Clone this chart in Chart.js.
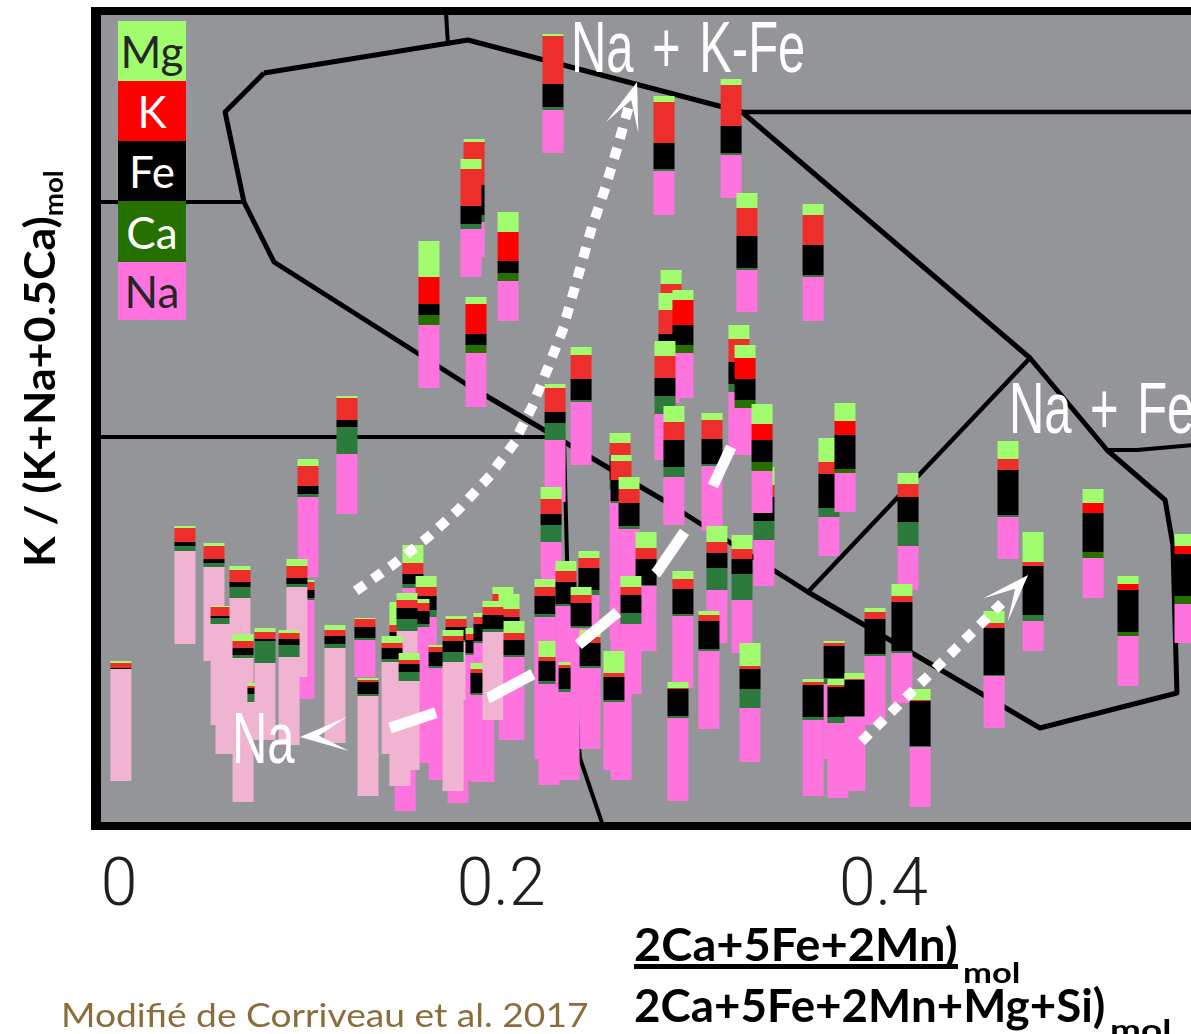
<!DOCTYPE html>
<html lang="fr">
<head>
<meta charset="utf-8">
<title>K / (K+Na+0.5Ca) vs (2Ca+5Fe+2Mn)/(2Ca+5Fe+2Mn+Mg+Si)</title>
<script src="https://cdn.jsdelivr.net/npm/chart.js"></script>
<style>
  html, body { margin:0; padding:0; background:#fff; }
  #wrap { position:relative; width:1191px; height:1034px; overflow:hidden; }
  #chart { position:absolute; left:0; top:0; }
  .ov { position:absolute; left:0; top:0; white-space:nowrap; line-height:1; transform-origin:0 0; }
  .field { color:#fff; font-family:'Liberation Sans', Arial, sans-serif; font-size:72px; word-spacing:0.1em; }
  .title { color:#000; font-family:Lato, 'Liberation Sans', sans-serif; font-weight:700; }
  .sub { font-size:0.62em; }
  .leg { position:absolute; left:118px; width:68px; display:flex; align-items:center; justify-content:center;
         font-family:Lato, 'Open Sans', sans-serif; font-size:44px; line-height:1; }
  #src { color:#8b6d3c; font-family:Lato, 'Open Sans', sans-serif; font-size:33px; }
</style>
</head>
<body>
<div id="wrap">
  <canvas id="chart" width="1191" height="1034"></canvas>
  <div id="legend"></div>
  <div class="ov field" id="lblKFe">Na + K-Fe</div>
  <div class="ov field" id="lblFe">Na + Fe</div>
  <div class="ov field" id="lblNa">Na</div>
  <div class="ov title" id="ytitle" style="font-size:42px">K / (K+Na+0.5Ca)<span class="sub" style="vertical-align:-0.32em">mol</span></div>
  <div class="ov title" id="xt1" style="font-size:45px">2Ca+5Fe+2Mn)</div>
  <div class="ov" id="xt1u" style="background:#000;height:5px"></div>
  <div class="ov title" id="xt1s" style="font-size:28px">mol</div>
  <div class="ov title" id="xt2" style="font-size:45px">2Ca+5Fe+2Mn+Mg+Si)</div>
  <div class="ov title" id="xt2s" style="font-size:28px">mol</div>
  <div class="ov" id="src">Modifié de Corriveau et al. 2017</div>
</div>
<script>
// ---------------- data ----------------
// components stacked bottom -> top in every glyph
const components = ['Na', 'Ca', 'Fe', 'K', 'Mg'];
const xTickLabels = ['0', '0.2', '0.4'];

// glyph position: x = (2Ca+5Fe+2Mn)/(2Ca+5Fe+2Mn+Mg+Si), base = bottom of the bar on the K/(K+Na+0.5Ca) axis (%)
const glyphX = [
  0.1622, 0.1858, 0.1842, 0.2036, 0.2271, 0.2852, 0.3203, 0.3286, 0.3632, 0.1868,
  0.1193, 0.2418, 0.2282, 0.2889, 0.2878, 0.2951, 0.2857, 0.2904, 0.3244, 0.3276,
  0.3103, 0.3375, 0.3365, 0.3715, 0.3799, 0.4652, 0.4129, 0.5097, 0.5578, 0.4783,
  0.5280, 0.2622, 0.2627, 0.2669, 0.2758, 0.2261, 0.2229, 0.2250, 0.2339, 0.2355,
  0.2459, 0.2418, 0.2465, 0.2679, 0.2590, 0.3129, 0.3087, 0.3260, 0.3302, 0.2951,
  0.2925, 0.3742, 0.3632, 0.3762, 0.3851, 0.3956, 0.4097, 0.4192, 0.4579, 0.0010,
  0.0345, 0.0497, 0.0560, 0.0534, 0.0633, 0.0649, 0.0727, 0.0764, 0.0989, 0.0968,
  0.0931, 0.0890, 0.1130, 0.1287, 0.1303, 0.1497, 0.1538, 0.1607, 0.1570, 0.1470,
  0.1507, 0.1429, 0.1518, 0.1774, 0.1675, 0.1764, 0.1748, 0.1868, 0.1910, 0.1894,
  0.2009, 0.2041, 0.1957, 0.2067
];
const glyphBase = [
  54.25, 70.625, 68.125, 62.625, 83.625, 75.875, 78.0, 63.75, 62.625, 51.875,
  38.5, 44.625, 40.0, 53.75, 52.375, 53.0, 45.25, 37.125, 45.875, 45.875,
  36.375, 29.5, 38.625, 33.25, 38.75, 32.875, 29.0, 28.0, 22.375, 21.375,
  17.0, 22.75, 5.25, 27.75, 21.375, 27.125, 7.875, 4.625, 15.25, 5.25,
  15.25, 15.25, 9.125, 16.0, 6.5, 22.375, 11.625, 21.125, 7.5, 16.75,
  2.625, 7.875, 3.25, 3.0, 3.875, 12.125, 14.875, 1.875, 11.75, 5.125,
  22.25, 20.125, 8.5, 12.125, 12.125, 2.5, 10.25, 10.25, 30.625, 15.375,
  18.125, 9.625, 9.875, 18.125, 3.25, 1.375, 22.75, 7.375, 15.25, 4.5,
  6.5, 8.5, 6.5, 2.375, 5.25, 15.25, 3.875, 5.25, 5.0, 5.0,
  15.25, 10.25, 12.75, 10.25
];
const naLen = [
  7.875, 4.375, 6.0, 5.0, 5.375, 5.5, 5.375, 5.25, 5.5, 6.75,
  7.5, 7.875, 7.75, 5.75, 5.375, 5.625, 5.75, 6.0, 7.875, 5.875,
  8.125, 5.75, 5.25, 4.875, 4.875, 5.25, 5.5, 5.0, 4.875, 3.75,
  6.25, 18.75, 34.625, 8.875, 8.125, 7.875, 17.75, 12.625, 11.75, 11.0,
  13.125, 9.0, 10.125, 8.75, 8.5, 6.625, 9.75, 6.625, 6.75, 9.0,
  10.375, 9.375, 9.5, 9.375, 9.25, 8.625, 6.25, 7.5, 6.5, 14.0,
  11.625, 11.75, 9.25, 12.625, 15.875, 18.0, 4.75, 9.625, 10.0, 12.375,
  11.25, 11.0, 11.875, 4.625, 12.5, 21.375, 6.5, 18.25, 9.125, 17.625,
  17.375, 11.5, 11.125, 18.625, 14.0, 7.25, 16.125, 15.625, 17.375, 10.875,
  10.375, 13.5, 11.0, 10.375
];
const caLen = [
  1.25, 0.875, 0.625, 1.0, 0.375, 0.25, 0.25, 0.25, 0.25, 1.0,
  3.375, 0.25, 2.125, 1.125, 1.125, 1.0, 2.25, 1.25, 1.0, 1.0,
  0.25, 2.375, 1.125, 1.125, 0.5, 0.25, 3.0, 0.75, 1.0, 0.75,
  0.5, 1.25, 0.25, 0.375, 0.125, 2.125, 0.375, 0.375, 0.25, 0.375,
  0.625, 0.25, 0.25, 1.375, 0.25, 2.75, 0.25, 3.25, 2.375, 0.25,
  0.25, 0.75, 0.375, 0.75, 0.125, 0.25, 0.25, 0.125, 0.125, 0,
  0.625, 0.5, 0, 0.75, 1.375, 0.375, 1.0, 2.75, 0.375, 0.25,
  0.375, 1.5, 0.5, 0.25, 0.25, 0, 0.5, 0.875, 0.375, 0.625,
  1.5, 0.375, 1.125, 0, 0.25, 0.25, 1.25, 0.25, 0.25, 0.25,
  0.25, 0.25, 0.375, 0.25
];
const feLen = [
  1.375, 3.75, 2.25, 1.5, 2.875, 3.25, 3.375, 4.0, 3.75, 1.375,
  0.875, 2.625, 1.375, 2.375, 2.125, 2.5, 2.25, 3.375, 2.75, 2.625,
  3.125, 3.0, 2.75, 4.25, 4.25, 5.625, 3.125, 4.875, 5.25, 6.125,
  5.25, 3.125, 2.625, 2.875, 3.25, 1.375, 2.25, 2.5, 2.75, 2.625,
  2.75, 2.875, 2.875, 2.25, 2.875, 1.875, 3.5, 1.875, 2.5, 3.125,
  3.375, 4.0, 4.0, 3.75, 4.5, 4.375, 6.125, 5.625, 5.875, 0.125,
  0.5, 0.5, 0, 0.25, 0.625, 0.875, 0.75, 0.25, 1.0, 1.0,
  0.75, 0.75, 1.0, 1.375, 1.5, 0, 1.25, 1.75, 1.625, 1.0,
  1.375, 1.375, 1.0, 0, 1.75, 1.625, 1.375, 1.625, 2.125, 2.5,
  1.75, 1.625, 1.75, 1.875
];
const kLen = [
  3.375, 5.375, 4.625, 3.625, 6.0, 5.125, 5.125, 3.5, 3.75, 3.75,
  2.75, 3.0, 3.0, 4.25, 3.0, 3.125, 2.75, 2.25, 2.875, 2.625,
  2.375, 1.5, 2.0, 1.5, 1.75, 1.375, 1.625, 1.25, 1.0, 0.5,
  0.75, 1.5, 2.375, 1.75, 1.375, 1.875, 1.125, 0.5, 1.375, 0.375,
  1.25, 1.0, 0.75, 1.0, 0.5, 1.375, 0.75, 1.25, 0.375, 1.25,
  0.125, 0.375, 0.375, 0.25, 0.125, 0.875, 0.75, 0.125, 0.625, 0.625,
  1.75, 1.625, 0, 1.125, 1.5, 0.875, 0.25, 0.875, 2.5, 1.0,
  1.5, 0.75, 0.75, 1.0, 0.25, 0, 1.375, 1.125, 1.0, 0.875,
  1.0, 0.625, 0.5, 0, 0.625, 1.0, 0.625, 0.75, 0.875, 0.5,
  0.875, 1.0, 1.0, 0.875
];
const mgLen = [
  4.5, 0.375, 1.25, 2.5, 0.25, 0.75, 0.75, 1.875, 1.375, 0.875,
  0.25, 1.0, 0.5, 1.75, 2.125, 1.25, 1.875, 2.0, 1.75, 1.625,
  0.875, 2.25, 2.5, 3.0, 2.25, 2.25, 1.375, 1.75, 1.5, 3.75,
  1.0, 1.25, 0.75, 1.5, 2.0, 1.5, 1.0, 2.0, 1.25, 0.375,
  0.875, 1.0, 0.875, 1.375, 2.75, 2.0, 0.5, 1.75, 2.875, 1.0,
  0.75, 0.25, 0.375, 0.75, 0.75, 0.5, 1.5, 1.375, 1.5, 0.25,
  0.25, 0.375, 0, 0.125, 0.5, 0.875, 0.375, 0.5, 0.875, 0.25,
  0.875, 0.375, 0.625, 0.125, 0.25, 0, 2.25, 1.375, 0.5, 2.875,
  0.875, 0.875, 0.875, 0, 0.25, 0.375, 0.75, 0.75, 0.5, 0.75,
  0.875, 1.875, 0.75, 1.5
];
// series of each glyph: 'a' main set, 'b' second set (pure red K, deep green Ca), 'p' pale Na set
const glyphSet = [
  'b','a','a','b','a','a','a','a','a','b',
  'a','a','a','a','a','b','a','a','a','b',
  'a','a','b','a','b','a','a','b','b','a',
  'b','a','a','a','a','a','a','a','a','a',
  'a','a','a','a','a','a','a','a','a','a',
  'a','a','a','a','a','a','a','a','a','p',
  'p','p','p','p','p','p','p','p','a','a',
  'p','p','p','a','p','a','a','a','a','p',
  'p','p','p','a','a','p','p','a','a','a',
  'a','a','p','a'
];

// classification field boundaries (x, K/(K+Na+0.5Ca) %)
const fieldOutline = [
  {x:0.0759,y:93.625},{x:0.1826,y:97.75},{x:0.3260,y:88.75},{x:0.4767,y:58.0},{x:0.5170,y:46.5},
  {x:0.5474,y:40.25},{x:0.5515,y:34.625},{x:0.5536,y:16.125},{x:0.4819,y:11.75},{x:0.3605,y:28.75},
  {x:0.2847,y:40.25},{x:0.1816,y:54.75},{x:0.0811,y:70.0},{x:0.0654,y:77.5},{x:0.0555,y:88.75},
  {x:0.0759,y:93.625}
];
const fieldFeSplit = [{x:0.4767,y:58.0},{x:0.3605,y:28.75}];
const fieldTopTick = [{x:0.1711,y:101.25},{x:0.1722,y:97.0}];
const fieldTopRight = [{x:0.3260,y:88.75},{x:0.5631,y:88.75}];
const fieldRight = [{x:0.5170,y:46.5},{x:0.5327,y:46.5},{x:0.5631,y:47.125}];
const fieldLeftUpper = [{x:-0.0126,y:77.5},{x:0.0654,y:77.5}];
const fieldLeftLower = [{x:-0.0126,y:48.125},{x:0.2287,y:48.125}];
const fieldBottom = [{x:0.2329,y:47.5},{x:0.2350,y:27.75},{x:0.2412,y:8.0},{x:0.2533,y:-0.5}];

// trend arrows
const trendKFe = [
  {x:0.1261,y:29.25},{x:0.1439,y:32.25},{x:0.1612,y:35.5},{x:0.1774,y:39.0},{x:0.1926,y:42.875},
  {x:0.2057,y:47.0},{x:0.2156,y:51.625},{x:0.2240,y:56.5},{x:0.2318,y:61.25},{x:0.2386,y:66.875},
  {x:0.2470,y:74.0},{x:0.2538,y:78.75},{x:0.2601,y:83.75},{x:0.2658,y:88.625}
];
const trendFe = [{x:0.3904,y:10.5},{x:0.4600,y:26.875}];
const trendNa = [
  {x:0.3203,y:46.875},{x:0.3108,y:42.0},{x:0.2962,y:36.375},{x:0.2815,y:31.25},{x:0.2611,y:26.25},
  {x:0.2402,y:22.125},{x:0.2177,y:18.625},{x:0.1941,y:15.625},{x:0.1669,y:13.75},{x:0.1418,y:11.75}
];
const arrowHeads = [
  {from:{x:0.2658,y:88.625}, tip:{x:0.2711,y:92.5}},
  {from:{x:0.4600,y:26.875}, tip:{x:0.4757,y:30.875}},
  {from:{x:0.1198,y:11.0},   tip:{x:0.0947,y:10.625}}
];

// ---------------- styles ----------------
const COLORS = {
  Na:'#ff73df', NaPale:'#f0b4d2', Ca:'#2c7a3c', CaB:'#267000', Fe:'#000000',
  K:'#ee2e2a', KB:'#ff0000', Mg:'#a2fd6e', plot:'#949599'
};
const legendItems = [
  {name:'Mg', bg:COLORS.Mg, fg:'#262626'},
  {name:'K',  bg:COLORS.KB, fg:'#ffffff'},
  {name:'Fe', bg:COLORS.Fe, fg:'#ffffff'},
  {name:'Ca', bg:COLORS.CaB, fg:'#ffffff'},
  {name:'Na', bg:COLORS.Na, fg:'#262626'}
];
function colorFor(comp, set) {
  if (comp === 'Na') return set === 'p' ? COLORS.NaPale : COLORS.Na;
  if (comp === 'Ca') return set === 'b' ? COLORS.CaB : COLORS.Ca;
  if (comp === 'K')  return set === 'b' ? COLORS.KB : COLORS.K;
  return COLORS[comp];
}

// ---------------- build bar segments ----------------
const lens = {Na:naLen, Ca:caLen, Fe:feLen, K:kLen, Mg:mgLen};
const segData = [], segColor = [];
glyphX.forEach((x, i) => {
  let y = glyphBase[i];
  components.forEach(c => {
    const len = lens[c][i];
    if (len > 0) { segData.push({x, y:[y, y + len]}); segColor.push(colorFor(c, glyphSet[i])); }
    y += len;
  });
});

function lineDs(data, width, extra) {
  return Object.assign({type:'line', data, borderColor:'#000', borderWidth:width, pointRadius:0,
    tension:0, fill:false, order:3, borderCapStyle:'butt', borderJoinStyle:'miter'}, extra || {});
}

const bgPlugin = {
  id:'bg',
  beforeDraw(chart) {
    const {ctx, chartArea:a} = chart;
    ctx.save(); ctx.fillStyle = '#fff'; ctx.fillRect(0, 0, chart.width, chart.height);
    ctx.fillStyle = COLORS.plot; ctx.fillRect(a.left, a.top, a.right - a.left, a.bottom - a.top); ctx.restore();
  },
  afterDraw(chart) {
    const {ctx, chartArea:a} = chart;
    ctx.save(); ctx.fillStyle = '#000';
    ctx.fillRect(a.left - 10, a.top - 8, a.right - a.left + 20, 8);      // top
    ctx.fillRect(a.left - 10, a.top - 8, 10, a.bottom - a.top + 16);     // left
    ctx.fillRect(a.left - 10, a.bottom, a.right - a.left + 20, 8);       // bottom
    ctx.restore();
  }
};
const headPlugin = {
  id:'heads',
  afterDatasetsDraw(chart) {
    const {ctx, scales:{x, y}, chartArea:a} = chart;
    ctx.save();
    ctx.beginPath(); ctx.rect(a.left, a.top, a.right - a.left, a.bottom - a.top); ctx.clip();
    ctx.fillStyle = '#fff';
    arrowHeads.forEach(h => {
      const tx = x.getPixelForValue(h.tip.x), ty = y.getPixelForValue(h.tip.y);
      const fx = x.getPixelForValue(h.from.x), fy = y.getPixelForValue(h.from.y);
      let dx = tx - fx, dy = ty - fy; const d = Math.hypot(dx, dy); dx /= d; dy /= d;
      const nx = -dy, ny = dx, L = 48, W = 17, N = 19;
      ctx.beginPath();
      ctx.moveTo(tx, ty);
      ctx.lineTo(tx - L*dx + W*nx, ty - L*dy + W*ny);
      ctx.lineTo(tx - N*dx, ty - N*dy);
      ctx.lineTo(tx - L*dx - W*nx, ty - L*dy - W*ny);
      ctx.closePath(); ctx.fill();
    });
    ctx.restore();
  }
};

const chart = new Chart(document.getElementById('chart'), {
  type:'bar',
  data:{
    datasets:[
      {type:'bar', label:'Analyses', data:segData, backgroundColor:segColor, borderWidth:0,
       barThickness:21, inflateAmount:0, order:2},
      lineDs(fieldOutline, 5, {borderJoinStyle:'round'}),
      lineDs(fieldFeSplit, 4.5),
      lineDs(fieldTopTick, 4),
      lineDs(fieldTopRight, 4.5),
      lineDs(fieldRight, 4),
      lineDs(fieldLeftUpper, 4),
      lineDs(fieldLeftLower, 4),
      lineDs(fieldBottom, 4),
      lineDs(trendKFe, 10, {borderColor:'#fff', borderDash:[1, 19.8], borderCapStyle:'square', order:1}),
      lineDs(trendFe, 10, {borderColor:'#fff', borderDash:[1, 19.7], borderCapStyle:'square', order:1}),
      lineDs(trendNa, 11, {borderColor:'#fff', borderDash:[51, 54], borderDashOffset:8, order:1})
    ]
  },
  options:{
    responsive:false, animation:false, events:[], devicePixelRatio:1,
    layout:{padding:{left:101, top:15, right:0, bottom:0}},
    plugins:{legend:{display:false}, tooltip:{enabled:false}},
    scales:{
      x:{type:'linear', min:-0.00942, max:0.56096, offset:false,
         grid:{display:false, drawTicks:false}, border:{display:false},
         ticks:{stepSize:0.2, includeBounds:false, padding:27, maxRotation:0, autoSkip:false,
                color:'#1f1f1f', font:{family:'Roboto, Liberation Sans, sans-serif', size:66, weight:'300', lineHeight:1.2},
                callback:(v) => xTickLabels[Math.round(v / 0.2)] },
         afterFit:(s) => { s.height = 212; s.paddingLeft = 0; s.paddingRight = 0; }},
      y:{type:'linear', display:false, min:0, max:100.875}
    }
  },
  plugins:[bgPlugin, headPlugin]
});

// ---------------- legend + text overlays ----------------
const legend = document.getElementById('legend');
const legTops = [21, 81, 141, 201, 262], legH = [60, 60, 60, 61, 58];
legendItems.forEach((it, i) => {
  const d = document.createElement('div');
  d.className = 'leg'; d.textContent = it.name;
  d.style.top = legTops[i] + 'px'; d.style.height = legH[i] + 'px';
  d.style.background = it.bg; d.style.color = it.fg;
  legend.appendChild(d);
});

function baselineOf(el) {
  const p = document.createElement('span');
  p.style.cssText = 'display:inline-block;width:0;height:0;vertical-align:baseline';
  el.appendChild(p); const b = p.offsetTop; el.removeChild(p); return b;
}
function place(id, left, baseline, width, scale) {
  const el = document.getElementById(id);
  const b = baselineOf(el), w = el.offsetWidth;
  const s = width ? width / w : (scale || 1);
  el.style.transform = `translate(${left}px, ${baseline - b}px) scaleX(${s})`;
}
function placeRotated(id, baselineX, startY, length) {
  const el = document.getElementById(id);
  const b = baselineOf(el), w = el.offsetWidth;
  el.style.transform = `translate(${baselineX - b}px, ${startY}px) rotate(-90deg) scaleX(${length / w})`;
}
function layoutText() {
  place('lblKFe', 571, 72, 0, 0.68);
  place('lblFe', 1009, 433, 0, 0.68);
  place('lblNa', 232, 763, 0, 0.68);
  placeRotated('ytitle', 55, 567, 397);
  place('xt1', 634, 961, 324);
  const u = document.getElementById('xt1u');
  u.style.width = '324px'; u.style.transform = 'translate(634px, 964px)';
  place('xt1s', 963, 983, 58);
  place('xt2', 634, 1022, 471);
  place('xt2s', 1110, 1040, 62);
  place('src', 61, 1027, 528);
}
layoutText();
if (document.fonts && document.fonts.ready) document.fonts.ready.then(layoutText);
</script>
</body>
</html>
